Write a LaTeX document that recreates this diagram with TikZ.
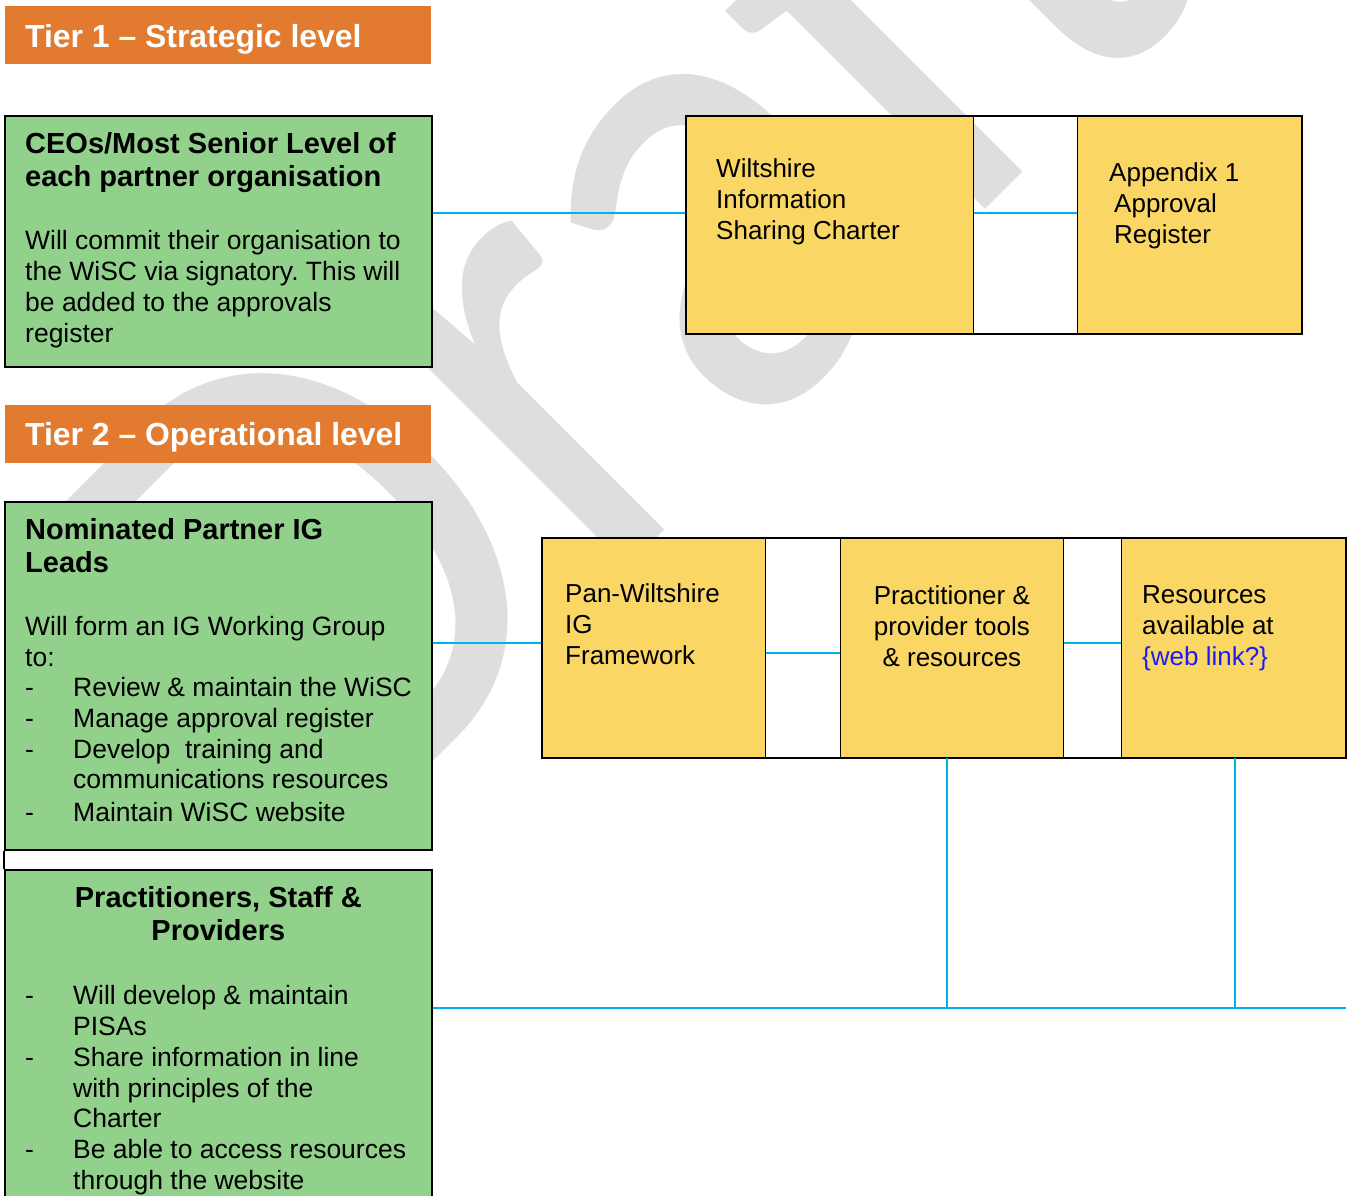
\documentclass[tikz,border=0pt]{standalone}
\usepackage{fontspec}
\setmainfont{Liberation Sans}
\newfontfamily\draftfont{Carlito}
\usetikzlibrary{positioning, calc}

\definecolor{tierorange}{HTML}{E27B2F}
\definecolor{leadgreen}{HTML}{92D18B}
\definecolor{docyellow}{HTML}{FAD765}
\definecolor{linkblue}{HTML}{00B0F0}
\definecolor{weblink}{HTML}{1A1AFF}
\definecolor{draftgrey}{HTML}{DEDEDE}

\tikzset{
  tierhead/.style={fill=tierorange, anchor=north west, inner sep=0, minimum width=426pt, minimum height=58pt},
  tiertext/.style={anchor=north west, inner sep=0, text=white, font=\fontsize{31.9}{36}\selectfont\bfseries},
  rolebox/.style={draw, line width=1.6pt, fill=leadgreen, anchor=north west, inner sep=0, minimum width=427pt},
  rolehead/.style={anchor=north west, inner sep=0, align=left, font=\fontsize{29}{33.4}\selectfont\bfseries},
  roletext/.style={anchor=north west, inner sep=0, align=left, font=\fontsize{26.5}{30.7}\selectfont},
  doccell/.style={draw, line width=0.8pt, fill=docyellow, anchor=north west, inner sep=0},
  docrow/.style={draw, line width=1.6pt, anchor=north west, inner sep=0},
  doctext/.style={anchor=north west, inner sep=0, align=left, font=\fontsize{26}{31}\selectfont},
  link/.style={draw=linkblue, line width=2pt},
  draftmark/.style={anchor=base west, rotate=45, inner sep=0, text=draftgrey, font=\draftfont\fontsize{617}{617}\selectfont},
}
\newcommand{\dashitem}{\makebox[48pt][l]{-}}
\newcommand{\dashgap}{\hspace*{48pt}}
\frenchspacing

\begin{document}
\begin{tikzpicture}[x=1pt, y=-1pt]
\useasboundingbox (0,0) rectangle (1351,1195);

% watermark
\node[draftmark] (draft) at (331.5,863.5) {\scalebox{1}[1.12]{Draft}};

% tier headers
\node[tierhead] (tierone) at (5,6) {};
\node[tiertext] (tieronetext) at ($(tierone.north west)+(20,18.5)$) {Tier 1 – Strategic level};
\node[tierhead] (tiertwo) at (5,405) {};
\node[tiertext] (tiertwotext) at ($(tiertwo.north west)+(20,17.5)$) {Tier 2 – Operational level};

% role boxes
\node[rolebox, minimum height=251pt] (ceo) at (4,115) {};
\node[rolehead] (ceohead) at ($(ceo.north west)+(21,17)$) {CEOs/Most Senior Level of\\each partner organisation};
\node[roletext] (ceotext) at ($(ceo.north west)+(21,115.5)$) {Will commit their organisation to\\the WiSC via signatory. This will\\be added to the approvals\\register};

\node[rolebox, minimum height=348pt] (ig) at (4,501) {};
\node[rolehead] (ighead) at ($(ig.north west)+(21,17)$) {Nominated Partner IG\\Leads};
\node[roletext] (igtext) at ($(ig.north west)+(21,115)$) {Will form an IG Working Group\\to:\\\dashitem Review \& maintain the WiSC\\\dashitem Manage approval register\\\dashitem Develop\ \ training and\\\dashgap communications resources\\[2pt]\dashitem Maintain WiSC website};

\node[rolebox, minimum height=340pt] (staff) at (4,869) {};
\node[rolehead, anchor=north, align=center] (staffhead) at ($(staff.north)+(0,17)$) {Practitioners, Staff \&\\Providers};
\node[roletext] (stafftext) at ($(staff.north west)+(21,116.5)$) {\dashitem Will develop \& maintain\\\dashgap PISAs\\\dashitem Share information in line\\\dashgap with principles of the\\\dashgap Charter\\\dashitem Be able to access resources\\\dashgap through the website};
\draw[line width=1.6pt] (ig.south west) -- (staff.north west);

% charter row
\node[doccell, minimum width=288pt, minimum height=218pt] (wisc) at (685,115) {};
\node[doccell, minimum width=224pt, minimum height=218pt] (appx) at (1077,115) {};
\node[docrow, minimum width=616pt, minimum height=218pt] (toprow) at (685,115) {};
\node[doctext] (wisctext) at ($(wisc.north west)+(31,43.5)$) {Wiltshire\\Information\\Sharing Charter};
\node[doctext] (appxtext) at ($(appx.north west)+(32,47.5)$) {Appendix 1\\\hspace*{5pt}Approval\\\hspace*{5pt}Register};

% framework row
\node[doccell, minimum width=224pt, minimum height=220pt] (panw) at (541,537) {};
\node[doccell, minimum width=223pt, minimum height=220pt] (tools) at (840,537) {};
\node[doccell, minimum width=224pt, minimum height=220pt] (res) at (1121,537) {};
\node[docrow, minimum width=804pt, minimum height=220pt] (botrow) at (541,537) {};
\node[doctext] (panwtext) at ($(panw.north west)+(24,46.5)$) {Pan-Wiltshire\\IG\\Framework};
\node[doctext, anchor=north, align=center] (toolstext) at ($(tools.north)+(0,48.5)$) {Practitioner \&\\provider tools\\\& resources};
\node[doctext] (restext) at ($(res.north west)+(21,48.5)$) {Resources\\available at\\\textcolor{weblink}{\{web link?\}}};

% links
\coordinate (toplevel) at (0,213);
\coordinate (midlevel) at (0,643);
\coordinate (baselevel) at (0,1008);
\draw[link] (ceo.east |- toplevel) -- (wisc.west |- toplevel);
\draw[link] (wisc.east |- toplevel) -- (appx.west |- toplevel);
\draw[link] (ig.east |- midlevel) -- (panw.west |- midlevel);
\draw[link] ([yshift=-6pt]panw.east) -- ([yshift=-6pt]tools.west);
\draw[link] (tools.east |- midlevel) -- (res.west |- midlevel);
\draw[link] ([xshift=-4.5pt]tools.south) -- ([xshift=-4.5pt]tools.south |- baselevel);
\draw[link] ([xshift=2pt]res.south) -- ([xshift=2pt]res.south |- baselevel);
\draw[link] (staff.east |- baselevel) -- (res.east |- baselevel);
\end{tikzpicture}
\end{document}
